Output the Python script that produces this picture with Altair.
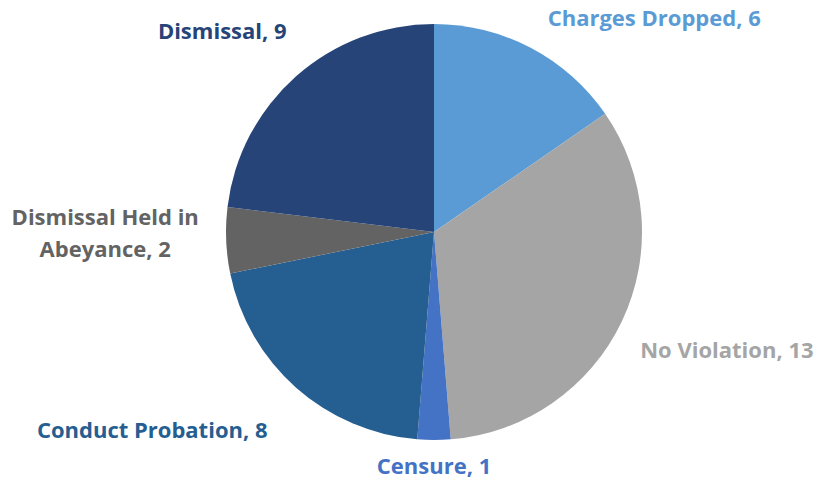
import altair as alt
import pandas as pd

categories = ["Charges Dropped", "No Violation", "Censure", "Conduct Probation",
              "Dismissal Held in Abeyance", "Dismissal"]
values = [6, 13, 1, 8, 2, 9]
colors = ["#5B9BD5", "#A5A5A5", "#4472C4", "#255E91", "#636363", "#264478"]

df = pd.DataFrame({
    "category": categories,
    "value": values,
    "order": list(range(len(categories))),
})
df["label"] = df["category"] + ", " + df["value"].astype(str)

CX, CY, R = 426, 224, 208

color_scale = alt.Scale(domain=categories, range=colors)

pie = alt.Chart(df).mark_arc(outerRadius=R, strokeWidth=0).encode(
    theta=alt.Theta("value:Q", stack=True),
    order=alt.Order("order:Q"),
    color=alt.Color("category:N", scale=color_scale, legend=None),
    x=alt.value(CX),
    y=alt.value(CY),
)

# label placement offsets (layout only)
offsets = {
    "Charges Dropped": (104, 8),
    "No Violation": (67, 12),
    "Censure": (0, -15),
    "Conduct Probation": (-116, 12),
    "Dismissal Held in Abeyance": (-79, -24),
    "Dismissal": (-46, -13),
}

lab_base = alt.Chart(df).transform_window(
    cum="sum(value)", sort=[alt.SortField("order")],
    frame=[None, 0],
).transform_joinaggregate(
    total="sum(value)"
).transform_calculate(
    ang="2 * PI * (datum.cum - datum.value / 2) / datum.total",
    txt="datum.category == 'Dismissal Held in Abeyance' ? ['Dismissal Held in', 'Abeyance, ' + datum.value] : datum.label",
)

layers = [pie]
for cat in categories:
    dx, dy = offsets[cat]
    layers.append(
        lab_base.transform_filter(alt.datum.category == cat).mark_text(
            font="Open Sans", fontWeight="bold", fontSize=22,
            align="center", baseline="middle", dx=dx, dy=dy, lineHeight=32,
        ).encode(
            theta=alt.Theta("ang:Q", scale=None),
            text=alt.Text("txt:N"),
            color=alt.Color("category:N", scale=color_scale, legend=None),
            radius=alt.value(250),
            x=alt.value(CX),
            y=alt.value(CY),
        )
    )

chart = alt.layer(*layers).properties(
    width=809, height=474, padding=0, autosize="none"
).configure_view(stroke=None)

chart.save("out.html", embed_options={"renderer": "svg", "actions": False})
